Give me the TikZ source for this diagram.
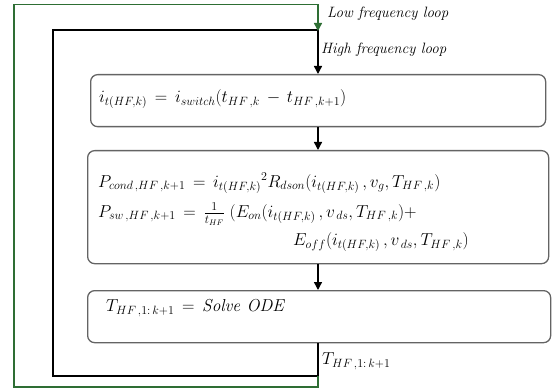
\documentclass[tikz,border=0pt]{standalone}
\usetikzlibrary{arrows.meta}
\definecolor{loopgreen}{RGB}{46,110,52}
\definecolor{boxgray}{RGB}{100,100,100}
\begin{document}
\begin{tikzpicture}[x=1pt,y=-1pt,
  box/.style={draw=boxgray,line width=1.3pt,rounded corners=7pt,anchor=north west,inner sep=0pt},
  eq/.style={anchor=west,inner sep=0pt,font=\fontsize{17}{19}\selectfont},
  lbl/.style={anchor=west,inner sep=0pt,font=\fontsize{15}{17}\selectfont\itshape},
  hfloop/.style={draw=black,line width=1.4pt},
  lfloop/.style={draw=loopgreen,line width=1.4pt},
  tip/.style={-{Triangle[length=8pt,width=8pt]}}]
\useasboundingbox (0,0) rectangle (554,390);

% process blocks
\node[box,minimum width=455pt,minimum height=52pt] (b1) at (90,74) {};
\node[box,minimum width=461pt,minimum height=113pt] (b2) at (87,150) {};
\node[box,minimum width=463pt,minimum height=52pt] (b3) at (87,290) {};

% equations
\node[eq] (e1) at (99,99) {$i_{t(HF,k)} \,=\, i_{switch}\bigl(t_{HF\,,k} \,-\, t_{HF\,,k+1}\bigr)$};
\node[eq] (e2) at (98,183) {$P_{cond\,,HF\,,k+1} \,=\, {i_{t(HF,k)}}^{2}R_{dson}(i_{t(HF,k)}\,, v_g, T_{HF\,,k})$};
\node[eq] (e3) at (98,214) {$P_{sw\,,HF\,,k+1} \,=\, \frac{1}{t_{HF}}\;(E_{on}(i_{t(HF,k)}\,, v_{\,ds}, T_{HF\,,k}) +$};
\node[eq] (e4) at (293,242) {$E_{off}(i_{t(HF,k)}\,, v_{\,ds}, T_{HF\,,k})$};
\node[eq] (e5) at (106,308) {$T_{HF\,,1:\,k+1} \,=\, \mathit{Solve\ ODE}$};

% loop labels
\node[lbl] (llf) at (327,14) {Low frequency loop};
\node[lbl] (lhf) at (321,50) {High frequency loop};
\node[eq]  (lt)  at (322,361) {$T_{HF\,,1:\,k+1}$};

% loop corners
\coordinate (hfb) at (318,376);
\coordinate (hfbl) at (53,376);
\coordinate (hftl) at (53,30);
\coordinate (hftr) at (318,30);
\coordinate (lfb) at (318,387);
\coordinate (lfbl) at (14,387);
\coordinate (lftl) at (14,4.5);
\coordinate (lftr) at (318,4.5);

% forward flow
\draw[hfloop,tip] (b1.south -| hfb) -- (b2.north -| hfb);
\draw[hfloop,tip] (b2.south -| hfb) -- (b3.north -| hfb);

% high frequency feedback
\draw[hfloop,tip] (b3.south -| hfb) -- (hfb) -- (hfbl) -- (hftl) -- (hftr) -- (b1.north -| hftr);

% low frequency feedback
\draw[lfloop,tip] (hfb) -- (lfb) -- (lfbl) -- (lftl) -- (lftr) -- ([yshift=-1pt]hftr);
\end{tikzpicture}
\end{document}
